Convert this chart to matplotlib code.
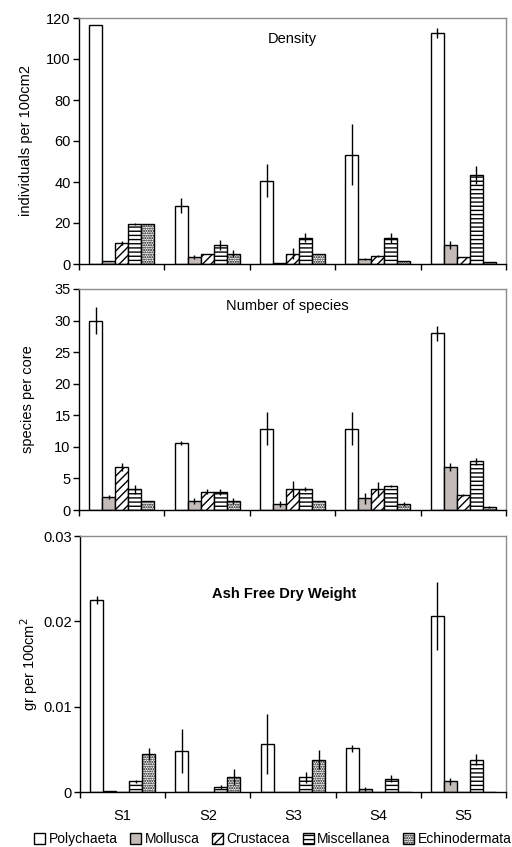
import matplotlib
matplotlib.use("Agg")
import matplotlib.pyplot as plt
import numpy as np
from matplotlib.patches import Patch
from matplotlib.ticker import FuncFormatter, FixedLocator

plt.rcParams['font.family'] = ['Liberation Sans', 'DejaVu Sans']
plt.rcParams['hatch.linewidth'] = 1.0

stations = ["S1", "S2", "S3", "S4", "S5"]
groups = ["Polychaeta", "Mollusca", "Crustacea", "Miscellanea", "Echinodermata"]

# Density (individuals per 100cm2): rows = groups, cols = stations
density = [
    [116.4, 28.5, 40.7, 53.4, 112.7],
    [1.5, 3.4, 0.5, 2.3, 9.2],
    [10.2, 4.8, 5.1, 3.8, 3.4],
    [19.6, 9.2, 12.9, 12.8, 43.4],
    [19.6, 5.1, 5.1, 1.6, 1.1],
]
density_err = [
    [0.0, 3.5, 8.0, 15.0, 2.3],
    [0.0, 1.0, 0.0, 0.5, 2.0],
    [0.8, 0.0, 2.5, 0.5, 0.0],
    [0.5, 2.5, 2.0, 2.5, 4.6],
    [0.0, 1.5, 0.0, 0.0, 0.0],
]

# Number of species (species per core)
species = [
    [30.0, 10.6, 12.9, 12.9, 28.0],
    [2.0, 1.4, 0.95, 1.85, 6.8],
    [6.8, 2.9, 3.3, 3.3, 2.4],
    [3.3, 2.9, 3.3, 3.8, 7.7],
    [1.4, 1.4, 1.4, 0.95, 0.5],
]
species_err = [
    [2.1, 0.3, 2.6, 2.6, 1.2],
    [0.3, 0.5, 0.5, 0.9, 0.7],
    [0.6, 0.4, 1.3, 1.2, 0.2],
    [0.7, 0.5, 0.3, 0.2, 0.5],
    [0.0, 0.5, 0.0, 0.3, 0.2],
]

# Ash free dry weight (gr per 100cm2)
afdw = [
    [0.0225, 0.0048, 0.0056, 0.0051, 0.0206],
    [0.0001, 0.0, 0.0, 0.00035, 0.00125],
    [0.0, 0.0, 0.0, 0.0, 0.0],
    [0.00125, 0.0006, 0.0017, 0.00155, 0.0038],
    [0.0044, 0.00175, 0.0038, 0.0, 0.0],
]
afdw_err = [
    [0.0005, 0.0026, 0.0035, 0.0004, 0.004],
    [0.0, 0.0, 0.0, 0.0002, 0.0004],
    [0.0, 0.0, 0.0, 0.0, 0.0],
    [0.0002, 0.0002, 0.0006, 0.0004, 0.0006],
    [0.0007, 0.0009, 0.0011, 0.0, 0.0],
]

facecolors = ["white", "#c2bbb7", "white", "white", "white"]
hatches = [None, None, "////", "----", "......."]

W, H = 512, 847
fig = plt.figure(figsize=(W / 100, H / 100), dpi=100)

def px_axes(left, right, top, bottom):
    return fig.add_axes([left / W, 1 - bottom / H, (right - left) / W, (bottom - top) / H])

panels = [
    dict(box=(79, 506, 18, 264), vals=density, errs=density_err, ylim=120, step=20,
         fmt=lambda v, p: f"{v:g}", ylabel="individuals per 100cm2", lx=-0.108,
         title="Density", tpos=(0.50, 0.915), bold=False, showx=False),
    dict(box=(79, 506, 289, 510), vals=species, errs=species_err, ylim=35, step=5,
         fmt=lambda v, p: f"{v:g}", ylabel="species per core", lx=-0.103,
         title="Number of species", tpos=(0.487, 0.923), bold=False, showx=False),
    dict(box=(80, 506, 536, 792), vals=afdw, errs=afdw_err, ylim=0.03, step=0.01,
         fmt=lambda v, p: "0" if abs(v) < 1e-12 else f"{v:.2f}", ylabel=r"gr per 100cm$^2$",
         lx=-0.095,
         title="Ash Free Dry Weight", tpos=(0.48, 0.773), bold=True, showx=True),
]

x = np.arange(len(stations))
bw = 0.152
for pnl in panels:
    ax = px_axes(*pnl["box"])
    for i, g in enumerate(groups):
        pos = x + (i - 2) * bw
        ax.bar(pos, pnl["vals"][i], width=bw, color=facecolors[i], edgecolor="black",
               linewidth=1.0, hatch=hatches[i], zorder=2)
        ev = np.array(pnl["errs"][i])
        mask = ev > 0
        if mask.any():
            ax.errorbar(pos[mask], np.array(pnl["vals"][i])[mask], yerr=ev[mask], fmt="none",
                        ecolor="black", elinewidth=1.0, capsize=0, zorder=3)
    ax.set_xlim(-0.5, 4.5)
    ax.set_ylim(0, pnl["ylim"])
    ax.yaxis.set_major_locator(FixedLocator(np.arange(0, pnl["ylim"] * 1.0001, pnl["step"])))
    ax.yaxis.set_major_formatter(FuncFormatter(pnl["fmt"]))
    ax.set_xticks(np.arange(-0.5, 5, 1.0))
    ax.set_xticklabels([])
    ax.tick_params(axis="x", which="major", direction="out", length=4, width=1, color="black")
    ax.tick_params(axis="y", direction="out", length=4, width=1, labelsize=10.5, pad=2)
    if pnl["showx"]:
        ax.set_xticks(x, minor=True)
        ax.set_xticklabels(stations, minor=True)
        ax.tick_params(axis="x", which="minor", length=0, labelsize=10.5, pad=12)
    for s in ("top", "right"):
        ax.spines[s].set_color("#8c8c8c")
        ax.spines[s].set_linewidth(1.0)
    ax.spines["left"].set_linewidth(1.0)
    ax.spines["bottom"].set_linewidth(1.0)
    ax.set_ylabel(pnl["ylabel"], fontsize=10.5)
    ax.yaxis.set_label_coords(pnl["lx"], 0.5)
    ax.text(pnl["tpos"][0], pnl["tpos"][1], pnl["title"], transform=ax.transAxes,
            ha="center", va="center", fontsize=10.5,
            fontweight="bold" if pnl["bold"] else "normal")

handles = [Patch(facecolor=facecolors[i], edgecolor="black", hatch=hatches[i], linewidth=1.0)
           for i in range(len(groups))]
fig.legend(handles, groups, loc="center", bbox_to_anchor=(0.533, 0.0094), ncol=5,
           frameon=False, fontsize=10, handlelength=0.8, handleheight=0.8,
           handletextpad=0.25, columnspacing=0.9, borderpad=0, borderaxespad=0)

fig.savefig("out.png", dpi=100)
